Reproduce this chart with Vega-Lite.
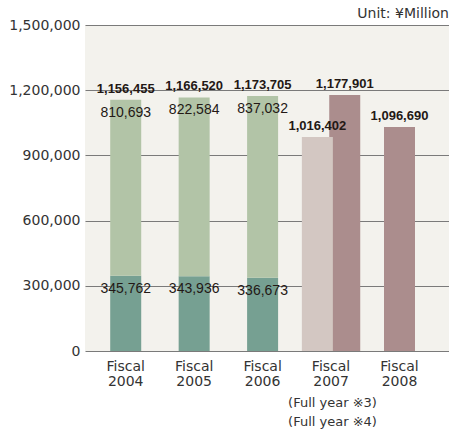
{
  "$schema": "https://vega.github.io/schema/vega-lite/v6.json",
  "width": 364,
  "height": 326,
  "autosize": {"type": "none"},
  "padding": {"left": 85, "top": 25, "right": 0, "bottom": 84},
  "background": "white",
  "config": {"view": {"fill": "#F3F2ED", "stroke": null}},
  "title": {"text": "Unit: ¥Million", "anchor": "end", "font": "DejaVu Sans", "fontSize": 14, "fontWeight": "normal", "color": "#333333", "baseline": "alphabetic", "offset": -14},
  "data": {
    "values": [
      {"year": "Fiscal 2004", "series": "main", "part": "lower", "value": 345762, "total": ""},
      {"year": "Fiscal 2004", "series": "main", "part": "upper", "value": 810693, "total": "1,156,455"},
      {"year": "Fiscal 2005", "series": "main", "part": "lower", "value": 343936, "total": ""},
      {"year": "Fiscal 2005", "series": "main", "part": "upper", "value": 822584, "total": "1,166,520"},
      {"year": "Fiscal 2006", "series": "main", "part": "lower", "value": 336673, "total": ""},
      {"year": "Fiscal 2006", "series": "main", "part": "upper", "value": 837032, "total": "1,173,705"},
      {"year": "Fiscal 2007", "series": "full4", "part": "full4", "value": 1177901, "total": "1,177,901"},
      {"year": "Fiscal 2007", "series": "full3", "part": "full3", "value": 985000, "total": "1,016,402"},
      {"year": "Fiscal 2008", "series": "main", "part": "full4", "value": 1031000, "total": "1,096,690"}
    ]
  },
  "transform": [
    {"stack": "value", "groupby": ["year", "series"], "sort": [{"field": "part", "order": "ascending"}], "as": ["v0", "v1"]}
  ],
  "encoding": {
    "x": {
      "field": "year", "type": "nominal", "sort": null,
      "scale": {"paddingInner": 0, "paddingOuter": 0.159, "align": 0.298},
      "axis": {
        "title": ["(Full year ※3)", "(Full year ※4)"],
        "titleX": 247, "titleY": 55, "titleAlign": "center", "titleBaseline": "alphabetic",
        "titleFont": "DejaVu Sans", "titleFontSize": 13, "titleFontWeight": "normal", "titleColor": "#333333", "titleLineHeight": 19,
        "labelAngle": 0, "domain": false, "ticks": false, "tickSize": 0, "grid": false,
        "labelPadding": 8, "labelFont": "DejaVu Sans", "labelFontSize": 14, "labelColor": "#333333",
        "labelLineHeight": 15, "labelBaseline": "top",
        "labelExpr": "split(datum.value, ' ')"
      }
    },
    "xOffset": {
      "field": "series", "type": "nominal",
      "scale": {"domain": ["full3", "main", "full4"], "paddingInner": 0, "paddingOuter": 1.133}
    },
    "y": {
      "field": "v1", "type": "quantitative",
      "scale": {"domain": [0, 1500000], "nice": false},
      "axis": {
        "title": null, "values": [0, 300000, 600000, 900000, 1200000, 1500000], "format": ",d",
        "domain": false, "ticks": false, "tickSize": 0, "labelPadding": 5,
        "labelFont": "DejaVu Sans", "labelFontSize": 14, "labelColor": "#333333",
        "gridColor": "#7a7a7a", "gridWidth": 1, "gridOpacity": 1
      }
    }
  },
  "layer": [
    {
      "mark": {"type": "bar", "width": 31},
      "encoding": {
        "y2": {"field": "v0"},
        "color": {
          "field": "part", "type": "nominal", "legend": null,
          "scale": {"domain": ["lower", "upper", "full3", "full4"], "range": ["#76A092", "#B2C4A7", "#D3C7C2", "#AB8D8D"]}
        }
      }
    },
    {
      "transform": [{"filter": "datum.part === 'lower' || datum.part === 'upper'"}],
      "mark": {"type": "text", "dy": 17, "baseline": "alphabetic", "font": "Liberation Sans", "fontSize": 14, "color": "#231815"},
      "encoding": {"text": {"field": "value", "type": "quantitative", "format": ",d"}}
    },
    {
      "transform": [{"filter": "datum.total !== ''"}],
      "mark": {"type": "text", "dy": -7, "baseline": "alphabetic", "font": "Liberation Sans", "fontSize": 13, "fontWeight": "bold", "color": "#231815"},
      "encoding": {"text": {"field": "total", "type": "nominal"}}
    }
  ]
}
